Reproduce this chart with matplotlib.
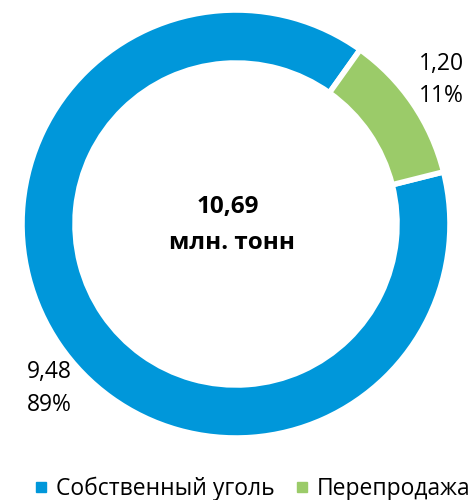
import matplotlib
matplotlib.use("Agg")
import matplotlib.pyplot as plt
from matplotlib.lines import Line2D

plt.rcParams['font.family'] = ['Open Sans', 'DejaVu Sans']

categories = ["Собственный уголь", "Перепродажа"]
values = [9.48, 1.20]
value_labels = ["9,48", "1,20"]
pct_labels = ["89%", "11%"]
total_label = "10,69"
unit_label = "млн. тонн"
colors = ["#0097DA", "#9BCB69"]

fig = plt.figure(figsize=(4.7, 5.0), dpi=100)
ax = fig.add_axes([0, 0, 1, 1])

cx, cy, R = 236, 276, 214
wedges, _ = ax.pie(values, colors=colors, startangle=14.1, counterclock=False,
                   center=(cx, cy), radius=R, frame=True,
                   wedgeprops=dict(width=53, edgecolor='white', linewidth=4))
ax.set_xlim(0, 470)
ax.set_ylim(0, 500)
ax.axis('off')

# data labels
lab_fs = 16.5
ax.text(49, 500 - 372, value_labels[0], ha='center', va='center', fontsize=lab_fs, color='black')
ax.text(49, 500 - 405, pct_labels[0], ha='center', va='center', fontsize=lab_fs, color='black')
ax.text(441, 500 - 64, value_labels[1], ha='center', va='center', fontsize=lab_fs, color='black')
ax.text(441, 500 - 96, pct_labels[1], ha='center', va='center', fontsize=lab_fs, color='black')

# center text
ax.text(cx - 8, 500 - 207, total_label, ha='center', va='center', fontsize=17.5, fontweight='bold')
ax.text(cx - 4, 500 - 243, unit_label, ha='center', va='center', fontsize=17.5, fontweight='bold')

handles = [Line2D([], [], marker='s', linestyle='none', markersize=6.5,
                  markerfacecolor=c, markeredgecolor=c) for c in colors]
fig.legend(handles, categories, loc='center', bbox_to_anchor=(0.537, 1 - 489 / 500),
           ncol=2, frameon=False, fontsize=16.5, handlelength=0.6,
           handletextpad=0.38, columnspacing=0.86, borderaxespad=0, borderpad=0)

fig.savefig("out.png", dpi=100)
